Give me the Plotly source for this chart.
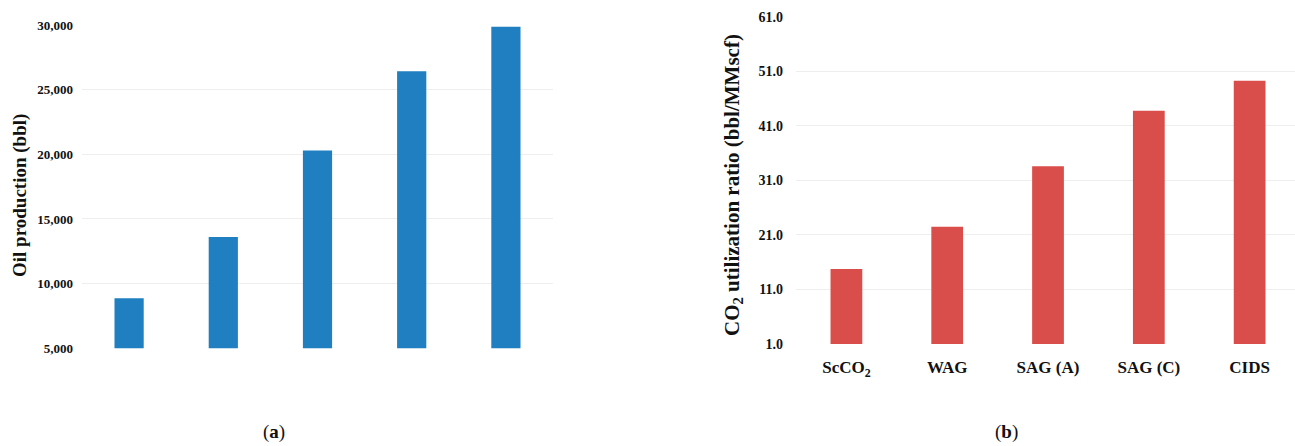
import plotly.graph_objects as go

# Oil production per injection scheme (panel a) and CO2 utilization ratio (panel b)
schemes = ["ScCO<sub>2</sub>", "WAG", "SAG (A)", "SAG (C)", "CIDS"]
oil_production_bbl = [8870, 13600, 20300, 26440, 29870]
co2_utilization = [14.7, 22.5, 33.6, 43.8, 49.3]

oil_ticks = [5000, 10000, 15000, 20000, 25000, 30000]
oil_tick_labels = ["5,000", "10,000", "15,000", "20,000", "25,000", "30,000"]
util_ticks = [1.0, 11.0, 21.0, 31.0, 41.0, 51.0, 61.0]
util_tick_labels = ["1.0", "11.0", "21.0", "31.0", "41.0", "51.0", "61.0"]

W, H = 1295, 446
SERIF = "Liberation Serif"
GRID = "#eeeeee"

fig = go.Figure()

fig.add_trace(go.Bar(
    x=schemes, y=oil_production_bbl, width=0.31,
    marker=dict(color="#1f7fc0", line=dict(width=0)),
    xaxis="x", yaxis="y", showlegend=False,
))
fig.add_trace(go.Bar(
    x=schemes, y=co2_utilization, width=0.315,
    marker=dict(color="#d94e4b", line=dict(width=0)),
    xaxis="x2", yaxis="y2", showlegend=False,
))

fig.update_layout(
    width=W, height=H,
    margin=dict(l=0, r=0, t=0, b=0, autoexpand=False),
    paper_bgcolor="white", plot_bgcolor="white",
    xaxis=dict(
        domain=[82 / W, 553 / W], range=[-0.5, 4.5],
        showticklabels=False, showgrid=False, zeroline=False, showline=False,
        anchor="y", automargin=False,
    ),
    yaxis=dict(
        domain=[(H - 348.3) / H, (H - 25) / H], range=[4990, 30010],
        tickvals=oil_ticks, ticktext=oil_tick_labels,
        tickfont=dict(family=SERIF, size=13, color="#111111", weight="bold"),
        ticklabelstandoff=8,
        showgrid=True, gridcolor=GRID, gridwidth=1,
        zeroline=False, showline=False, anchor="x", automargin=False,
    ),
    xaxis2=dict(
        domain=[796 / W, 1.0], range=[-0.5, 4.45],
        tickfont=dict(family=SERIF, size=17, color="#111111", weight="bold"),
        ticklabelstandoff=11,
        showgrid=False, zeroline=False, showline=False, anchor="y2",
        automargin=False,
    ),
    yaxis2=dict(
        domain=[(H - 344) / H, (H - 16.7) / H], range=[0.95, 61.05],
        tickvals=util_ticks, ticktext=util_tick_labels,
        tickfont=dict(family=SERIF, size=14, color="#111111", weight="bold"),
        ticklabelstandoff=12,
        showgrid=True, gridcolor=GRID, gridwidth=1,
        zeroline=False, showline=False, anchor="x2", automargin=False,
    ),
)

fig.add_annotation(
    text="Oil production (bbl)", textangle=-90,
    font=dict(family=SERIF, size=19, color="#111111", weight="bold"),
    x=20 / W, y=(H - 196) / H, xref="paper", yref="paper",
    xanchor="center", yanchor="middle", showarrow=False,
)
fig.add_annotation(
    text="CO<sub>2</sub> utilization ratio (bbl/MMscf)", textangle=-90,
    font=dict(family=SERIF, size=21, color="#111111", weight="bold"),
    x=733 / W, y=(H - 185) / H, xref="paper", yref="paper",
    xanchor="center", yanchor="middle", showarrow=False,
)

caption_font = dict(family=SERIF, size=19, color="#111111")
fig.add_annotation(
    text="(<b>a</b>)", font=caption_font,
    x=274 / W, y=(H - 432) / H, xref="paper", yref="paper",
    xanchor="center", yanchor="middle", showarrow=False,
)
fig.add_annotation(
    text="(<b>b</b>)", font=caption_font,
    x=1006 / W, y=(H - 432) / H, xref="paper", yref="paper",
    xanchor="center", yanchor="middle", showarrow=False,
)

fig.write_html("out.html")
